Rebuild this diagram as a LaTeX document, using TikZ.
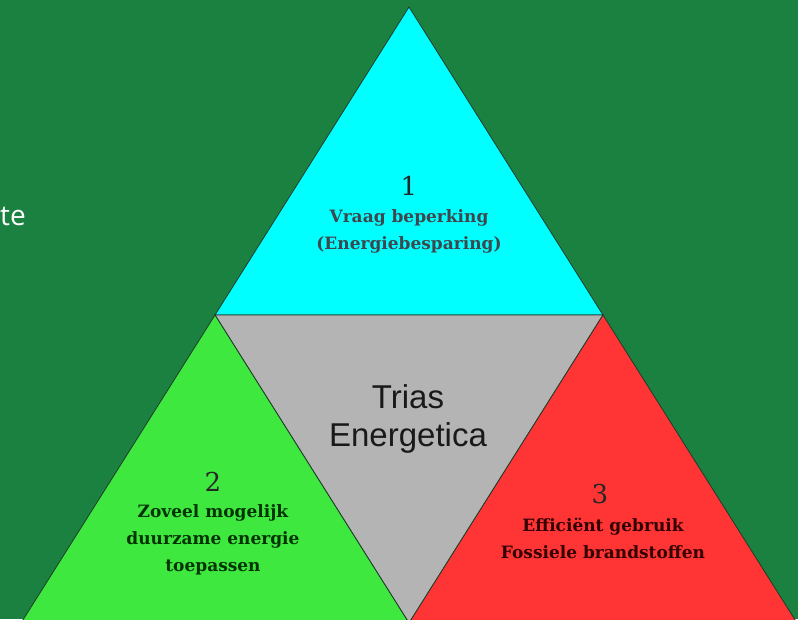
\documentclass[tikz,border=0pt]{standalone}
\usepackage{fontspec}
\setmainfont{DejaVu Serif}
\newfontfamily\trisans{Liberation Sans}
\newfontfamily\sidesans{Open Sans}
\definecolor{bggreen}{HTML}{1B8141}
\definecolor{cyanfill}{HTML}{00FFFF}
\definecolor{grayfill}{HTML}{B4B4B4}
\definecolor{greenfill}{HTML}{3FE83F}
\definecolor{redfill}{HTML}{FF3535}
\definecolor{edge}{HTML}{1F3A2A}
\tikzset{
  tri/.style={draw=edge, line width=0.8pt, line join=miter},
  num/.style={font=\fontsize{26}{26}\selectfont, text=black!85, inner sep=0pt},
  lab/.style={font=\fontsize{17}{27}\selectfont\bfseries, align=center, inner sep=0pt},
}
\begin{document}
\begin{tikzpicture}[x=1pt,y=-1pt]
\useasboundingbox (0,0) rectangle (798,619);
\fill[bggreen] (0,0) rectangle (798,619);
\begin{scope}
\clip (0,0) rectangle (798,619);
\coordinate (A) at (409,7);
\coordinate (L) at (215,315);
\coordinate (R) at (603,315);
\coordinate (BL) at (21,623);
\coordinate (BM) at (409,623);
\coordinate (BR) at (797,623);
\filldraw[tri, fill=cyanfill] (A) -- (L) -- (R) -- cycle;
\filldraw[tri, fill=grayfill] (L) -- (R) -- (BM) -- cycle;
\filldraw[tri, fill=greenfill] (L) -- (BL) -- (BM) -- cycle;
\filldraw[tri, fill=redfill] (R) -- (BM) -- (BR) -- cycle;
\end{scope}
\node[num] (n1) at (409,186) {1};
\node[lab, text=black!80!cyan] (t1) at (409,231) {Vraag beperking\\(Energiebesparing)};
\node[num] (n2) at (213,482) {2};
\node[lab, text=black!80!green] (t2) at (213,540) {Zoveel mogelijk\\duurzame energie\\toepassen};
\node[num] (n3) at (600,494) {3};
\node[lab, text=black!80!red] (t3) at (603,538) {Efficiënt gebruik\\Fossiele brandstoffen};
\node[font=\fontsize{33}{38}\selectfont\trisans, align=center, text=black!90, inner sep=0pt] (tri) at (408,419) {Trias\\Energetica};
\node[font=\fontsize{28}{28}\selectfont\sidesans, text=white, anchor=east, inner sep=0pt] (te) at (26,216) {te};
\end{tikzpicture}
\end{document}
